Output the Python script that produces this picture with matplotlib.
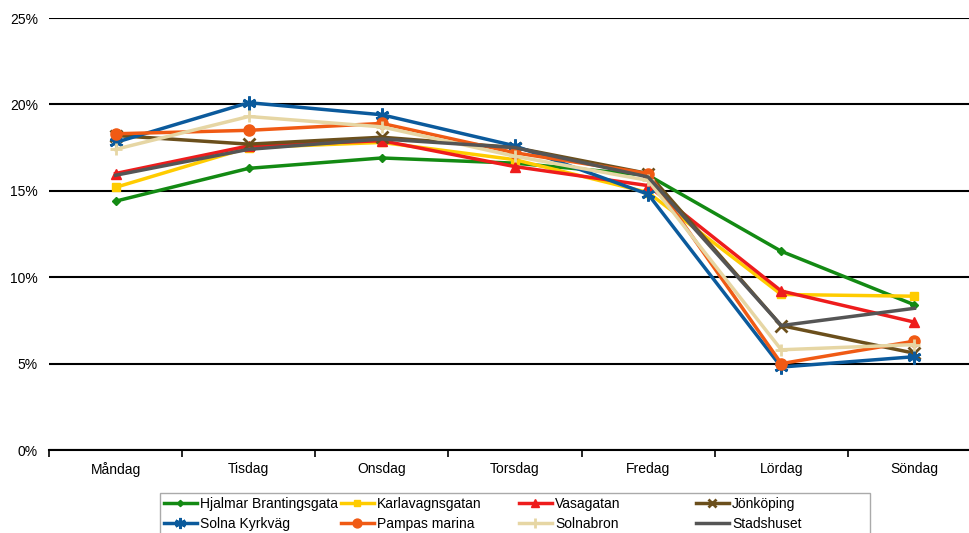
import matplotlib
matplotlib.use("Agg")
import matplotlib.pyplot as plt
from matplotlib.patches import Rectangle
from matplotlib.ticker import FuncFormatter, MultipleLocator

plt.rcParams["font.family"] = ["Liberation Sans", "DejaVu Sans"]

days = ["Måndag", "Tisdag", "Onsdag", "Torsdag", "Fredag", "Lördag", "Söndag"]

hjalmar = [14.4, 16.3, 16.9, 16.6, 15.9, 11.5, 8.4]
karlavagn = [15.2, 17.5, 17.8, 16.8, 14.9, 9.0, 8.9]
vasagatan = [16.0, 17.6, 17.9, 16.4, 15.3, 9.2, 7.4]
jonkoping = [18.2, 17.7, 18.1, 17.5, 16.0, 7.2, 5.6]
solna_kyrkvag = [17.8, 20.1, 19.4, 17.6, 14.8, 4.8, 5.4]
pampas = [18.3, 18.5, 18.9, 17.2, 16.0, 5.0, 6.3]
solnabron = [17.4, 19.3, 18.7, 17.0, 15.6, 5.8, 6.1]
stadshuset = [15.9, 17.4, 18.0, 17.5, 15.8, 7.2, 8.2]

series = [
    ("Hjalmar Brantingsgata", hjalmar, "#138a13", "D", 4),
    ("Karlavagnsgatan", karlavagn, "#ffcc00", "s", 6),
    ("Vasagatan", vasagatan, "#ee1c1c", "^", 7),
    ("Jönköping", jonkoping, "#6b4f1c", "x", 8),
    ("Solna Kyrkväg", solna_kyrkvag, "#0b5a9c", (6, 2, 0), 10),
    ("Pampas marina", pampas, "#f05a14", "o", 8),
    ("Solnabron", solnabron, "#e6d6a4", "+", 9),
    ("Stadshuset", stadshuset, "#555555", "None", 0),
]

W, H = 970, 533
fig = plt.figure(figsize=(W / 100, H / 100), dpi=100)
ax = fig.add_axes([49 / W, 83 / H, 932 / W, 432 / H])

x = list(range(len(days)))
lines = []
for name, vals, color, marker, ms in series:
    ln, = ax.plot(x, vals, color=color, lw=2.5, marker=marker, ms=ms,
                  mew=2 if marker in ("x", "+", (6, 2, 0)) else 1,
                  label=name, zorder=3)
    lines.append(ln)

ax.set_xlim(-0.5, len(days) - 0.5)
ax.set_ylim(0, 25)
ax.yaxis.set_major_locator(MultipleLocator(5))
ax.yaxis.set_major_formatter(FuncFormatter(lambda v, _: f"{v:.0f}%"))
ax.grid(axis="y", color="black", lw=1.5, zorder=1)

for side in ("top", "right", "left"):
    ax.spines[side].set_visible(False)
ax.spines["bottom"].set_linewidth(1.5)

# category labels centred, ticks on the boundaries between days
ax.set_xticks([i - 0.5 for i in range(len(days) + 1)])
ax.set_xticklabels([])
ax.set_xticks(x, minor=True)
ax.set_xticklabels(days, minor=True, fontsize=10)
ax.tick_params(axis="x", which="major", length=5, width=1.2, direction="out")
ax.tick_params(axis="x", which="minor", length=0, pad=9)
ax.tick_params(axis="y", length=0, labelsize=10, pad=8)

# legend: one shared frame, four equally spaced columns filled row by row
fig.patches.append(Rectangle((160 / W, -0.05), 710 / W, 1 - 493 / H + 0.05,
                             transform=fig.transFigure, fill=False,
                             edgecolor="#aaaaaa", lw=1))
col_x = [161, 338, 516, 693]
for c, left in enumerate(col_x):
    fig.legend(handles=[lines[c], lines[c + 4]],
               loc="upper left", bbox_to_anchor=(left / W, 1 - 494 / H),
               fontsize=10, frameon=False, handlelength=2.4,
               handletextpad=0.2, labelspacing=0.45, borderpad=0.2,
               borderaxespad=0, markerscale=0.8)

fig.savefig("out.png", dpi=100)
